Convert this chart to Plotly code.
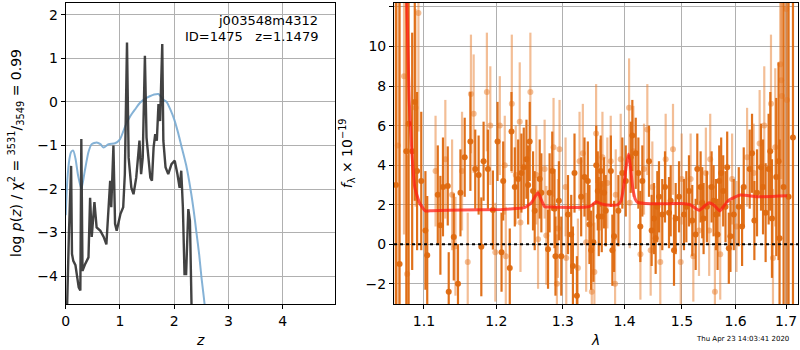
import plotly.graph_objects as go

# ---------------- left panel: log p(z) ----------------
pz_z = [0.0, 0.02, 0.06, 0.10, 0.116, 0.14, 0.18, 0.24, 0.27, 0.288, 0.31, 0.36, 0.42, 0.45, 0.48, 0.53,
        0.57, 0.64, 0.70, 0.75, 0.79, 0.82, 0.84, 0.88, 0.91, 0.94, 1.01, 1.06, 1.09, 1.13, 1.16, 1.21,
        1.25, 1.30, 1.36, 1.39, 1.42, 1.46, 1.49, 1.52, 1.56, 1.59, 1.62, 1.65, 1.68, 1.71, 1.74, 1.78,
        1.80, 1.84, 1.89, 1.95, 2.01, 2.06, 2.10, 2.13, 2.16, 2.19, 2.22, 2.26, 2.29, 2.32, 2.36, 2.45]
pz_logp = [-6.0, -4.7, -3.0, -1.47, -3.49, -3.65, -3.75, -4.26, -4.33, -0.85, -3.88, -3.72, -3.57, -2.2,
           -3.1, -2.3, -2.88, -2.96, -3.1, -3.27, -2.42, -1.81, -2.42, -1.0, -2.8, -2.96, -2.57, -2.42,
           -1.66, 1.36, -1.28, -1.97, -2.12, -1.74, -0.89, -1.66, -1.28, 1.06, -0.82, -1.28, -1.74, -1.81,
           -1.05, -0.74, -0.89, -0.05, -0.44, 1.33, -0.89, -1.5, -1.66, -1.43, -1.35, -1.66, -1.97, -1.58,
           -2.42, -3.95, -3.95, -2.46, -2.73, -4.7, -6.0, -8.0]

prior_z = [0.0, 0.03, 0.07, 0.10, 0.14, 0.18, 0.23, 0.29, 0.35, 0.42, 0.48, 0.57, 0.64, 0.70, 0.79, 0.91,
           1.00, 1.10, 1.19, 1.28, 1.37, 1.46, 1.55, 1.63, 1.71, 1.80, 1.86, 1.93, 2.00, 2.07, 2.13, 2.22,
           2.30, 2.36, 2.41, 2.46, 2.50, 2.56, 2.65]
prior_logp = [-2.6, -1.8, -1.3, -1.15, -1.12, -1.3, -1.7, -2.0, -1.6, -1.15, -0.97, -0.93, -0.97, -1.05,
              -0.97, -0.95, -0.86, -0.55, -0.33, -0.17, -0.02, 0.07, 0.13, 0.17, 0.18, 0.05, 0.0, -0.18,
              -0.40, -0.7, -1.0, -1.45, -2.0, -2.5, -3.0, -3.5, -4.0, -4.64, -5.9]

# ---------------- right panel: spectrum ----------------
dark_wave = [1.0636, 1.0683, 1.077, 1.080, 1.0846, 1.088, 1.091, 1.0965, 1.102, 1.1044, 1.1185, 1.122,
             1.1255, 1.132, 1.1333, 1.1402, 1.146, 1.1494, 1.1553, 1.1632, 1.170, 1.1748, 1.1786, 1.1818,
             1.188, 1.1951, 1.2018, 1.2076, 1.210, 1.2196, 1.2221, 1.227, 1.232, 1.2368, 1.2403, 1.2443,
             1.2468, 1.2492, 1.2542, 1.2567, 1.2643, 1.2668, 1.277, 1.2794, 1.2835, 1.287, 1.2885, 1.2938,
             1.2975, 1.308, 1.3131, 1.3158, 1.3183, 1.3221, 1.3289, 1.3342, 1.3396, 1.3422, 1.3449, 1.3486,
             1.3532, 1.3557, 1.3573, 1.3606, 1.3622, 1.366, 1.3688, 1.3772, 1.3797, 1.3825, 1.3897, 1.3963,
             1.4021, 1.4105, 1.4132, 1.419, 1.4235, 1.4268, 1.4303, 1.4418, 1.4464, 1.4505, 1.4534, 1.4563,
             1.4592, 1.465, 1.4698, 1.4769, 1.4799, 1.4858, 1.4888, 1.4948, 1.5037, 1.508, 1.5128, 1.5188,
             1.525, 1.528, 1.5341, 1.5371, 1.5396, 1.5457, 1.5545, 1.5582, 1.5626, 1.5657, 1.5688, 1.5725,
             1.5763, 1.5807, 1.5839, 1.587, 1.5901, 1.5965, 1.6061, 1.6125, 1.6157, 1.6273, 1.6319, 1.6365,
             1.6417, 1.6496, 1.6536, 1.6588, 1.6648, 1.6681, 1.6715, 1.6801, 1.6848, 1.6868, 1.695, 1.7052,
             1.7142]
dark_flux = [3.0, -1.0, 4.7, 6.1, 4.7, 7.2, 3.7, 3.2, 0.7, -0.56, 2.5, 0.96, 2.9, 2.95, -2.4, 0.37, -2.0,
             2.6, 4.4, 5.2, 3.8, 3.5, -0.13, 4.2, 3.8, 1.73, 5.2, -0.4, 3.2, -1.2, 5.7, 2.9, 3.3, 3.6, 3.9,
             4.3, 3.0, 5.2, 2.7, 1.7, 3.3, 2.6, -0.25, 2.6, 3.7, 1.8, -0.6, 2.2, -0.6, 1.5, 0.5, -1.1, 3.6,
             -2.6, 2.4, 3.4, 3.2, 1.0, -0.3, 0.1, 4.0, 2.7, 1.4, 3.7, 1.4, 2.6, 1.7, 3.7, -0.3, 0.4, 1.7,
             3.6, 3.2, 4.4, 5.5, 4.6, 3.6, 0.9, 3.2, 4.2, 0.7, 1.3, 0.3, 1.9, 2.4, 1.5, 2.9, 1.6, 2.2, -0.3,
             1.3, 2.4, 1.5, 1.9, 2.7, 1.2, 0.5, 3.8, 2.9, 2.1, 1.3, 1.9, 2.9, 2.2, 1.5, 0.5, 3.2, 3.6, 2.7,
             1.9, 3.9, -0.2, 0.4, 1.5, 1.9, 0.9, 2.9, 3.8, 4.6, 1.2, 2.6, 3.9, 2.9, 1.6, 3.8, 4.7, 1.3, 3.4,
             4.2, 0.3, 2.9, 2.4, 5.4]
dark_err = [15, 15, 10, 10, 6, 5, 4, 3.5, 3, 3, 2.5, 2.5, 2.5, 2, 2, 2.2, 2, 2.2, 2, 2.5, 2, 2, 2.5, 2,
            2, 2, 2, 2, 2, 2, 2, 2, 2, 2, 2, 2, 2, 2, 2, 2, 2, 2, 2, 2, 2, 2, 2, 2, 2, 2, 2, 2, 2, 2, 2,
            2, 2, 2, 2, 2, 2, 2, 2, 1.8, 1.8, 1.8, 1.8, 1.8, 1.8, 1.8, 1.8, 1.8, 1.8, 1.8, 1.8, 1.8, 1.8,
            1.8, 1.8, 1.8, 1.8, 1.8, 1.8, 1.8, 1.8, 1.8, 1.8, 1.8, 1.8, 1.8, 1.8, 1.8, 1.8, 1.8, 1.8,
            1.8, 1.8, 1.8, 1.8, 1.8, 1.8, 1.8, 1.8, 1.8, 1.8, 1.8, 1.8, 1.8, 1.8, 1.8, 1.8, 1.8, 1.8,
            1.8, 2, 2, 2, 2, 2, 2, 2.2, 2.2, 2.4, 2.5, 2.8, 3, 3, 4, 5, 5, 15, 15, 15]

light_wave = [1.066, 1.074, 1.078, 1.089, 1.0928, 1.1155, 1.1287, 1.1379, 1.1425, 1.1516, 1.1595, 1.164,
              1.1678, 1.1865, 1.1914, 1.1986, 1.2051, 1.2123, 1.2138, 1.2226, 1.2284, 1.2343, 1.2354,
              1.2502, 1.2592, 1.2618, 1.2718, 1.2744, 1.2855, 1.2907, 1.2923, 1.2948, 1.3042, 1.3053,
              1.3237, 1.3263, 1.3316, 1.3369, 1.346, 1.3502, 1.353, 1.3595, 1.3633, 1.3714, 1.377, 1.3842,
              1.3853, 1.3936, 1.4077, 1.4088, 1.415, 1.427, 1.4332, 1.4389, 1.4447, 1.4476, 1.4615, 1.471,
              1.484, 1.4978, 1.4996, 1.5158, 1.5207, 1.5311, 1.5438, 1.55, 1.5519, 1.5607, 1.5707, 1.5933,
              1.6017, 1.6222, 1.6351, 1.6469, 1.6561, 1.6695, 1.6735, 1.6781, 1.6882, 1.6903, 1.6917,
              1.7005, 1.7018]
light_flux = [5.0, 8.5, -1.5, 6.9, 11.7, 3.7, 4.3, 2.5, -0.1, 3.7, -0.9, 7.6, 6.6, 7.7, 6.0, -0.4, 6.0,
              4.0, -0.6, 7.1, 3.5, 6.2, 1.1, 7.7, 3.5, 0.25, 3.8, 0.45, 4.9, -2.0, 0.8, 4.8, 2.9, -0.7,
              -1.2, 4.2, 4.6, 0.1, -2.4, -1.4, 5.6, 3.0, 4.4, 3.1, 4.2, -2.0, 2.5, 4.3, 6.9, 2.1, 4.7, -0.5,
              3.8, 5.8, -0.3, 2.9, -0.9, 4.3, 4.8, -0.9, 3.3, 3.3, -0.6, 0.7, 3.6, 0.7, 4.3, -2.4, -0.5,
              3.3, 0.9, 4.4, 3.6, 5.1, 6.0, 7.1, -0.7, 4.9, 9.1, 8.3, 7.5, 11.9, 7.3]
light_err = [15, 8, 6, 5, 6, 2.8, 3, 2.8, 2.5, 3, 2.5, 3, 3, 3, 3, 2.5, 2.5, 2.5, 2.5, 3.5, 2.5, 3, 2.5,
             3, 2.5, 2.5, 2.5, 2.5, 2.5, 2.5, 2.5, 2.5, 2.5, 2.5, 2.5, 2.5, 2.5, 2.5, 2.5, 2.5, 2.5, 2.3,
             2.3, 2.3, 2.3, 2.3, 2.3, 2.3, 2.5, 2.3, 2.3, 2.3, 2.3, 2.3, 2.3, 2.3, 2.3, 2.3, 2.3, 2.3,
             2.3, 2.3, 2.3, 2.3, 2.3, 2.3, 2.3, 2.3, 2.3, 2.3, 2.3, 2.5, 2.5, 2.7, 3, 3.5, 3.5, 4, 5, 5,
             5, 15, 15]

masked_wave = [1.7005]
masked_flux = [5.0]
masked_err = [15]

model_wave = [1.070, 1.0745, 1.0776, 1.0807, 1.0843, 1.0879, 1.0942, 1.1017, 1.1106, 1.1512, 1.2076,
              1.2246, 1.2413, 1.2517, 1.2580, 1.2618, 1.2660, 1.2719, 1.2820, 1.3369, 1.3450, 1.3530,
              1.3610, 1.3721, 1.3885, 1.3940, 1.3990, 1.4030, 1.4069, 1.4105, 1.4137, 1.4180, 1.4222,
              1.4450, 1.4978, 1.5150, 1.5311, 1.5400, 1.5496, 1.5600, 1.5699, 1.5780, 1.5870, 1.6093,
              1.6418, 1.7019]
model_flux = [30, 16, 12.2, 7.3, 4.6, 2.9, 2.1, 1.69, 1.7, 1.73, 1.76, 1.8, 1.85, 2.1, 2.45, 2.6, 2.3,
              1.9, 1.88, 1.88, 1.95, 2.15, 2.05, 1.98, 2.0, 2.2, 3.0, 4.0, 4.57, 3.8, 2.9, 2.3, 2.12, 2.05,
              2.06, 2.0, 1.72, 1.9, 2.1, 1.95, 1.69, 1.95, 2.23, 2.49, 2.4, 2.45]

lam_ticks = [1.1, 1.2, 1.3, 1.4, 1.5, 1.6, 1.7]
lam_ticktext = ["1.1", "1.2", "1.3", "1.4", "1.5", "1.6", "1.7"]

DARK = "rgba(222,105,15,0.95)"
LIGHT = "rgba(232,125,45,0.5)"
FONT = "DejaVu Sans"

fig = go.Figure()

# left
fig.add_trace(go.Scatter(x=prior_z, y=prior_logp, mode="lines", line=dict(color="rgba(120,170,210,0.9)", width=2,
                                                                          shape="spline", smoothing=0.6),
                         xaxis="x", yaxis="y", showlegend=False))
fig.add_trace(go.Scatter(x=pz_z, y=pz_logp, mode="lines", line=dict(color="rgba(45,45,45,0.9)", width=2.4),
                         xaxis="x", yaxis="y", showlegend=False))

# right
fig.add_trace(go.Scatter(x=masked_wave, y=masked_flux, mode="markers",
                         marker=dict(color="rgba(150,150,150,0.0)", size=1),
                         error_y=dict(type="data", array=masked_err, color="rgba(150,150,150,0.6)",
                                      thickness=3, width=0),
                         xaxis="x2", yaxis="y2", showlegend=False))
fig.add_trace(go.Scatter(x=light_wave, y=light_flux, mode="markers",
                         marker=dict(color=LIGHT, size=6, line=dict(width=0)),
                         error_y=dict(type="data", array=light_err, color=LIGHT, thickness=2.2, width=0),
                         xaxis="x2", yaxis="y2", showlegend=False))
fig.add_trace(go.Scatter(x=dark_wave, y=dark_flux, mode="markers",
                         marker=dict(color=DARK, size=6, line=dict(width=0)),
                         error_y=dict(type="data", array=dark_err, color=DARK, thickness=2.2, width=0),
                         xaxis="x2", yaxis="y2", showlegend=False))
fig.add_trace(go.Scatter(x=model_wave, y=model_flux, mode="lines",
                         line=dict(color="rgba(255,30,20,0.75)", width=3, shape="spline", smoothing=0.5),
                         xaxis="x2", yaxis="y2", showlegend=False))

axis_common = dict(showline=True, linecolor="black", linewidth=1, mirror=True, ticks="outside",
                   ticklen=4, tickcolor="black", showgrid=True, gridcolor="#b0b0b0", gridwidth=1,
                   zeroline=False, tickfont=dict(family=FONT, size=14, color="black"))

fig.update_layout(
    width=800, height=350, margin=dict(l=0, r=0, t=0, b=0),
    paper_bgcolor="white", plot_bgcolor="white",
    font=dict(family=FONT, color="black"),
    xaxis=dict(domain=[62 / 800, 333 / 800], range=[0, 4.97], tickvals=[0, 1, 2, 3, 4], anchor="y",
               **axis_common),
    yaxis=dict(domain=[46 / 350, 347 / 350], range=[-4.64, 2.27], tickvals=[-4, -3, -2, -1, 0, 1, 2],
               anchor="x", **axis_common),
    xaxis2=dict(domain=[392 / 800, 798 / 800], type="log", range=[0.0258, 0.2367], tickvals=lam_ticks,
                ticktext=lam_ticktext, anchor="y2", **axis_common),
    yaxis2=dict(domain=[46 / 350, 347 / 350], range=[-3.02, 12.2], tickvals=[-2, 0, 2, 4, 6, 8, 10, 12],
                anchor="x2", **axis_common),
)

fig.add_shape(type="line", xref="x2 domain", yref="y2", x0=0, x1=1, y0=0, y1=0,
              line=dict(color="black", width=2, dash="dot"))

ann = [
    dict(text="j003548m4312", x=318 / 800, y=1 - 20 / 350, xanchor="right", yanchor="middle", size=13),
    dict(text="ID=1475   z=1.1479", x=318 / 800, y=1 - 36 / 350, xanchor="right", yanchor="middle", size=13),
    dict(text="<i>z</i>", x=197 / 800, y=1 - 340 / 350, xanchor="center", yanchor="middle", size=14),
    dict(text="<i>λ</i>", x=594 / 800, y=1 - 340 / 350, xanchor="center", yanchor="middle", size=14),
    dict(text="Thu Apr 23 14:03:41 2020", x=742 / 800, y=1 - 339 / 350, xanchor="center", yanchor="middle",
         size=7),
]
for a in ann:
    fig.add_annotation(text=a["text"], x=a["x"], y=a["y"], xref="paper", yref="paper", showarrow=False,
                       xanchor=a["xanchor"], yanchor=a["yanchor"], font=dict(family=FONT, size=a["size"],
                                                                            color="black"))

fig.add_annotation(text="log <i>p</i>(<i>z</i>) / χ<sup>2</sup> = <sup>3531</sup>/<sub>3549</sub> = 0.99",
                   x=12 / 800, y=1 - 153 / 350, xref="paper", yref="paper", showarrow=False, textangle=-90,
                   xanchor="center", yanchor="middle", font=dict(family=FONT, size=14, color="black"))
fig.add_annotation(text="<i>f</i><sub>λ</sub> × 10<sup>−19</sup>",
                   x=345 / 800, y=1 - 153 / 350, xref="paper", yref="paper", showarrow=False, textangle=-90,
                   xanchor="center", yanchor="middle", font=dict(family=FONT, size=14, color="black"))

fig.write_html("out.html", config={"displayModeBar": False},
               post_script="document.body.style.margin='0';document.body.style.overflow='hidden';")
